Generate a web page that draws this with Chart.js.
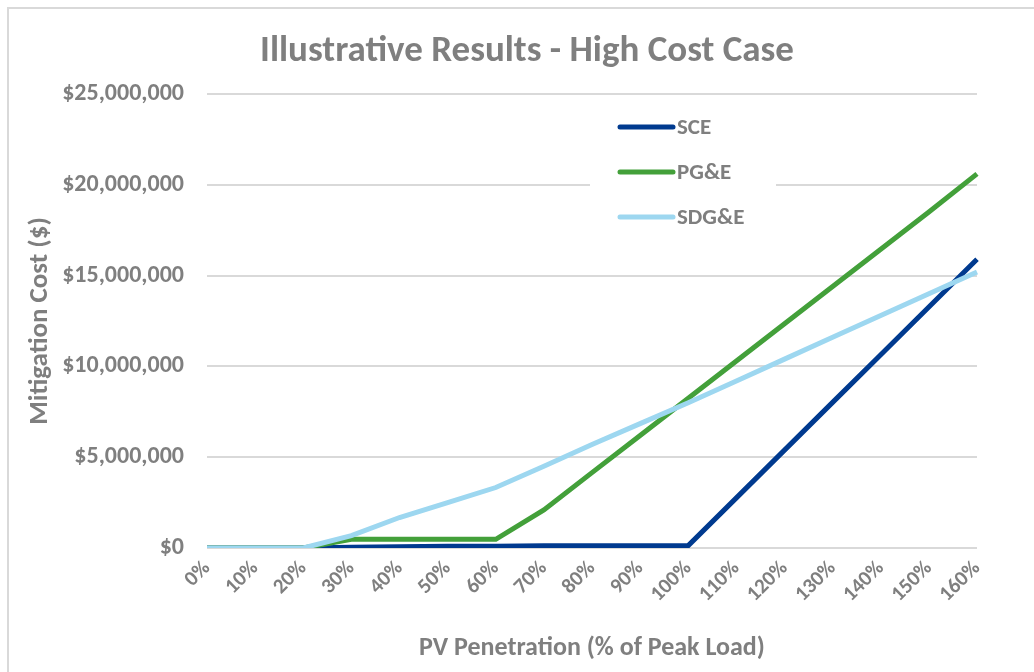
<!DOCTYPE html>
<html>
<head>
<meta charset="utf-8">
<script src="https://cdn.jsdelivr.net/npm/chart.js@4.4.1/dist/chart.umd.min.js"></script>
<style>
html, body { margin: 0; padding: 0; background: #fff; overflow: hidden; }
#khung { position: relative; width: 1034px; height: 672px; }
#vien { position: absolute; left: 7px; top: 7px; width: 1040px; height: 680px; border-left: 2px solid #d9d9d9; border-top: 2px solid #d9d9d9; }
canvas { position: absolute; left: 0; top: 0; }
</style>
</head>
<body>
<div id="khung">
	<div id="vien"></div>
	<canvas id="bieuDo" width="1034" height="672"></canvas>
</div>
<script>
var labels = ['0%', '10%', '20%', '30%', '40%', '50%', '60%', '70%', '80%', '90%', '100%', '110%', '120%', '130%', '140%', '150%', '160%'];
var sce = [0, 0, 0, 40000, 70000, 90000, 100000, 130000, 130000, 130000, 130000, 2760000, 5390000, 8020000, 10640000, 13270000, 15900000];
var pge = [0, 0, 0, 480000, 480000, 480000, 480000, 2100000, 4150000, 6200000, 8250000, 10300000, 12350000, 14400000, 16450000, 18500000, 20600000];
var sdge = [0, 0, 0, 680000, 1680000, 2500000, 3330000, 4500000, 5700000, 6850000, 8000000, 9200000, 10400000, 11600000, 12800000, 14000000, 15200000];
var yTicks = [0, 5000000, 10000000, 15000000, 20000000, 25000000];

var tieuDe = 'Illustrative Results - High Cost Case';
var tenTrucX = 'PV Penetration (% of Peak Load)';
var tenTrucY = 'Mitigation Cost ($)';
var phongChu = 'Carlito, Lato, sans-serif';
var mauChu = '#7f7f7f';

// title + legend drawn by hand so they sit where the original has them
var veThem = {
	id: 'veThem',
	afterDraw: (chart) => {
		var ctx = chart.ctx;
		ctx.save();
		ctx.fillStyle = mauChu;
		ctx.font = 'bold 37px ' + phongChu;
		ctx.textAlign = 'center';
		ctx.textBaseline = 'middle';
		ctx.fillText(tieuDe, 527, 52);

		ctx.fillStyle = '#fff';
		ctx.fillRect(590, 104, 186, 134);
		var yDong = [127, 172, 217];
		chart.data.datasets.forEach((ds, i) => {
			ctx.strokeStyle = ds.borderColor;
			ctx.lineWidth = 5;
			ctx.lineCap = 'round';
			ctx.beginPath();
			ctx.moveTo(620, yDong[i]);
			ctx.lineTo(673, yDong[i]);
			ctx.stroke();
			ctx.fillStyle = mauChu;
			ctx.font = 'bold 23px ' + phongChu;
			ctx.textAlign = 'left';
			ctx.fillText(ds.label, 677, yDong[i] + 1);
		});
		ctx.restore();
	}
};

var config = {
	type: 'line',
	data: {
		labels: labels,
		datasets: [
			{ label: 'SCE', data: sce, borderColor: '#003A8F', backgroundColor: '#003A8F', order: 2 },
			{ label: 'PG&E', data: pge, borderColor: '#43A03A', backgroundColor: '#43A03A', order: 1 },
			{ label: 'SDG&E', data: sdge, borderColor: '#9DD7F0', backgroundColor: '#9DD7F0', order: 0 }
		]
	},
	options: {
		responsive: false,
		animation: false,
		layout: { padding: { left: 4, right: 57, top: 94, bottom: 0 } },
		elements: {
			line: { borderWidth: 5, tension: 0, fill: false, borderJoinStyle: 'miter' },
			point: { radius: 0, hoverRadius: 0 }
		},
		plugins: {
			legend: { display: false },
			title: { display: false },
			tooltip: { enabled: false }
		},
		scales: {
			x: {
				offset: false,
				afterFit: (s) => { s.height = 124; },
				grid: { display: false, drawTicks: false },
				border: { display: false },
				ticks: {
					color: mauChu,
					font: { family: phongChu, size: 21, weight: 'bold' },
					minRotation: 45,
					maxRotation: 45,
					padding: 8,
					autoSkip: false
				},
				title: {
					display: true,
					text: tenTrucX,
					color: mauChu,
					font: { family: phongChu, size: 26, weight: 'bold' },
					padding: { top: 0, bottom: 8 }
				}
			},
			y: {
				min: 0,
				max: 25000000,
				afterFit: (s) => { s.width = 203; },
				afterBuildTicks: (s) => { s.ticks = yTicks.map(v => ({ value: v })); },
				grid: { color: '#d9d9d9', lineWidth: 2, drawTicks: false },
				border: { display: false },
				ticks: {
					color: mauChu,
					font: { family: phongChu, size: 24, weight: 'bold' },
					padding: 23,
					callback: (v) => '$' + v.toLocaleString('en-US')
				},
				title: {
					display: true,
					text: tenTrucY,
					color: mauChu,
					font: { family: phongChu, size: 27, weight: 'bold' },
					padding: { top: 20, bottom: 0 }
				}
			}
		}
	},
	plugins: [veThem]
};

var bieuDo = new Chart(document.getElementById('bieuDo').getContext('2d'), config);
</script>
</body>
</html>
